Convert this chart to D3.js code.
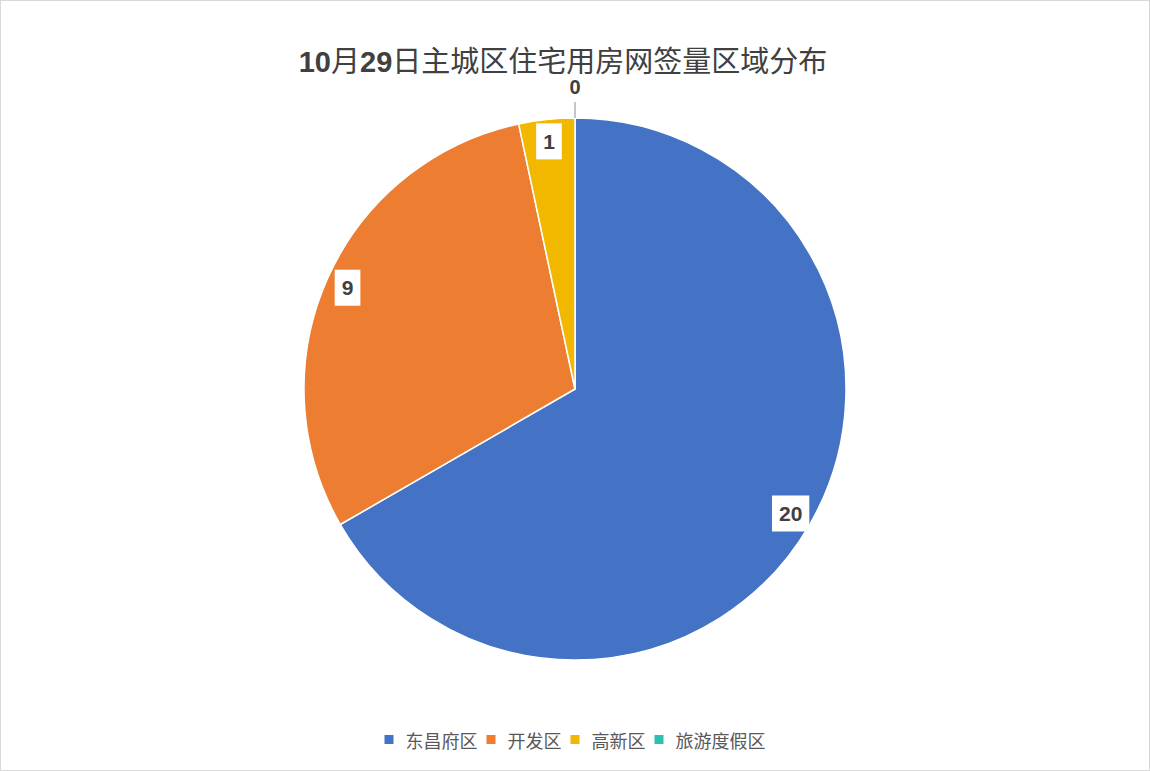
<!DOCTYPE html>
<html lang="zh">
<head>
<meta charset="UTF-8">
<title>10月29日主城区住宅用房网签量区域分布</title>
<style>
  body { margin: 0; background: #fff; }
  svg { display: block; }
</style>
<script src="https://d3js.org/d3.v7.min.js"></script>
</head>
<body>
<svg id="chart" width="1150" height="771"></svg>
<script>
// data
const regions = ["东昌府区", "开发区", "高新区", "旅游度假区"];
const counts = [20, 9, 1, 0];
const colors = ["#4472C4", "#ED7D31", "#F2B800", "#2FBFAF"];
const title = "10月29日主城区住宅用房网签量区域分布";

const width = 1150, height = 771;
const cx = 575, cy = 389, radius = 271;
const latin = "'Liberation Sans', 'Open Sans', sans-serif";
const cjk = "'Noto Sans CJK SC', sans-serif";

const svg = d3.select("#chart");

// outer frame
svg.append("rect")
  .attr("x", 0.5).attr("y", 0.5)
  .attr("width", width - 1).attr("height", height - 1)
  .attr("fill", "#fff").attr("stroke", "#d9d9d9");

// title: digits bold, CJK regular
const t = svg.append("text")
  .attr("x", 563).attr("y", 72)
  .attr("text-anchor", "middle")
  .attr("font-size", 29)
  .attr("fill", "#404040");
title.match(/[0-9]+|[^0-9]+/g).forEach(part => {
  const isNum = /^[0-9]/.test(part);
  t.append("tspan")
    .attr("font-family", isNum ? latin : cjk)
    .attr("font-weight", isNum ? "bold" : "normal")
    .text(part);
});

const data = regions.map((r, i) => ({ region: r, value: counts[i], color: colors[i] }));

const pie = d3.pie().sort(null).value(d => d.value);
const arcs = pie(data);
const arc = d3.arc().innerRadius(0).outerRadius(radius);

const g = svg.append("g").attr("transform", `translate(${cx},${cy})`);

g.selectAll("path.slice")
  .data(arcs.filter(d => d.data.value > 0))
  .join("path")
  .attr("class", "slice")
  .attr("d", arc)
  .attr("fill", d => d.data.color)
  .attr("stroke", "#fff")
  .attr("stroke-width", 1.5);

// labels
const labelR = radius - 22;
arcs.forEach(d => {
  const mid = (d.startAngle + d.endAngle) / 2;
  if (d.data.value === 0) {
    // zero slice: label outside with short leader line
    const x0 = Math.sin(mid), y0 = -Math.cos(mid);
    g.append("line")
      .attr("x1", x0 * radius).attr("y1", y0 * radius)
      .attr("x2", x0 * (radius + 16)).attr("y2", y0 * (radius + 16))
      .attr("stroke", "#a6a6a6").attr("stroke-width", 1.3);
    g.append("text")
      .attr("x", x0 * (radius + 24)).attr("y", y0 * (radius + 24))
      .attr("text-anchor", "middle")
      .attr("font-family", latin).attr("font-weight", "bold")
      .attr("font-size", 20).attr("fill", "#404040")
      .text(d.data.value);
    return;
  }
  const x = Math.sin(mid) * labelR, y = -Math.cos(mid) * labelR;
  const lg = g.append("g").attr("transform", `translate(${x},${y})`);
  const bg = lg.append("rect").attr("fill", "#fff");
  const txt = lg.append("text")
    .attr("text-anchor", "middle").attr("dominant-baseline", "central")
    .attr("font-family", latin).attr("font-weight", "bold")
    .attr("font-size", 21).attr("fill", "#404040")
    .text(d.data.value);
  const w = txt.node().getComputedTextLength() + 14;
  bg.attr("x", -w / 2).attr("y", -18).attr("width", w).attr("height", 36);
});

// legend, centred
const legend = svg.append("g");
let lx = 0;
data.forEach(d => {
  const item = legend.append("g").attr("transform", `translate(${lx},0)`);
  item.append("rect")
    .attr("x", 0).attr("y", -5).attr("width", 9).attr("height", 9)
    .attr("fill", d.color);
  const txt = item.append("text")
    .attr("x", 21).attr("y", 0)
    .attr("dominant-baseline", "central")
    .attr("font-family", cjk).attr("font-size", 18)
    .attr("fill", "#595959")
    .text(d.region);
  lx += 21 + txt.node().getComputedTextLength() + 9;
});
const legendW = lx - 9;
legend.attr("transform", `translate(${575 - legendW / 2},740)`);
</script>
</body>
</html>
